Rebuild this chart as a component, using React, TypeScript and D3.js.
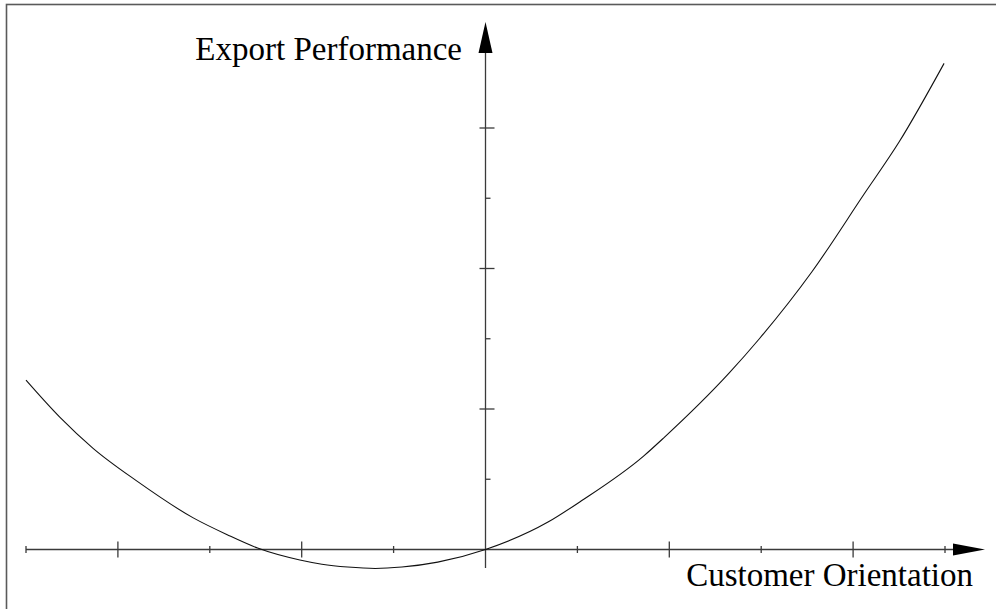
import React, { useEffect, useRef } from 'react';
import * as d3 from 'd3';

// curve (x in tick units, y in tick units)
const curveX = [-5.0, -4.63, -4.27, -3.8, -3.18, -2.81, -2.48, -2.02, -1.78, -1.5, -1.2, -0.91, -0.52, 0, 0.68, 1.04, 1.72, 1.94, 2.65, 2.98, 3.55, 4.12, 4.5, 4.99];
const curveY = [2.41, 1.88, 1.44, 0.98, 0.45, 0.21, 0.02, -0.15, -0.21, -0.25, -0.27, -0.25, -0.18, 0, 0.39, 0.69, 1.33, 1.59, 2.51, 3.0, 3.95, 5.06, 5.8, 6.92];

const xTicks = [-5, -4, -3, -2, -1, 1, 2, 3, 4, 5];
const xMajor = [-4, -2, 2, 4];
const yTicks = [1, 2, 3, 4, 5, 6];
const yMajor = [2, 4, 6];

const xTitle = 'Customer Orientation';
const yTitle = 'Export Performance';

const W = 996;
const H = 609;

const App: React.FC = () => {
  const ref = useRef<SVGSVGElement>(null);

  useEffect(() => {
    if (!ref.current) return;
    const svg = d3.select(ref.current);
    svg.selectAll('*').remove();

    const x = d3.scaleLinear().domain([-5, 5]).range([26, 945]);
    const y = d3.scaleLinear().domain([0, 6]).range([549.5, 128]);
    const axisColor = '#3a3a3a';

    // frame (only the top and left edges fall inside the picture)
    svg.append('rect')
      .attr('x', 6.5).attr('y', 4.5)
      .attr('width', 1100).attr('height', 800)
      .attr('fill', 'none')
      .attr('stroke', '#5a5a5a')
      .attr('stroke-width', 1.6);

    // x axis
    svg.append('line')
      .attr('x1', x(-5)).attr('x2', 960)
      .attr('y1', y(0)).attr('y2', y(0))
      .attr('stroke', axisColor).attr('stroke-width', 1.3);
    svg.append('path')
      .attr('d', `M953,${y(0) - 6} L985,${y(0)} L953,${y(0) + 6} Z`)
      .attr('fill', '#000');

    svg.selectAll('.xt')
      .data(xTicks)
      .enter().append('line')
      .attr('class', 'xt')
      .attr('x1', d => x(d)).attr('x2', d => x(d))
      .attr('y1', d => y(0) - (xMajor.includes(d) ? 8 : 3.5))
      .attr('y2', d => y(0) + (xMajor.includes(d) ? 8 : 3.5))
      .attr('stroke', axisColor).attr('stroke-width', 1.3);

    // y axis
    svg.append('line')
      .attr('x1', x(0)).attr('x2', x(0))
      .attr('y1', 568).attr('y2', 40)
      .attr('stroke', axisColor).attr('stroke-width', 1.3);
    svg.append('path')
      .attr('d', `M${x(0) - 7},53 L${x(0)},22 L${x(0) + 7},53 Z`)
      .attr('fill', '#000');

    svg.selectAll('.yt')
      .data(yTicks)
      .enter().append('line')
      .attr('class', 'yt')
      .attr('x1', d => x(0) - (yMajor.includes(d) ? 6 : 0))
      .attr('x2', d => x(0) + (yMajor.includes(d) ? 9 : 5))
      .attr('y1', d => y(d)).attr('y2', d => y(d))
      .attr('stroke', axisColor).attr('stroke-width', 1.3);

    // curve
    const pts: [number, number][] = curveX.map((v, i) => [v, curveY[i]]);
    const line = d3.line<[number, number]>()
      .x(d => x(d[0]))
      .y(d => y(d[1]))
      .curve(d3.curveMonotoneX);
    svg.append('path')
      .datum(pts)
      .attr('d', line)
      .attr('fill', 'none')
      .attr('stroke', '#111')
      .attr('stroke-width', 1.1);

    // titles
    svg.append('text')
      .attr('x', 462).attr('y', 60)
      .attr('text-anchor', 'end')
      .style('font-family', '"Liberation Serif", "Times New Roman", serif')
      .style('font-size', '33px')
      .style('fill', '#000')
      .text(yTitle);

    svg.append('text')
      .attr('x', 973).attr('y', 586)
      .attr('text-anchor', 'end')
      .style('font-family', '"Liberation Serif", "Times New Roman", serif')
      .style('font-size', '33px')
      .style('fill', '#000')
      .text(xTitle);
  }, []);

  return (
    <div style={{ position: 'absolute', left: 0, top: 0, width: W, height: H, background: '#fff' }}>
      <svg ref={ref} width={W} height={H} style={{ display: 'block' }} />
    </div>
  );
};

export default App;
